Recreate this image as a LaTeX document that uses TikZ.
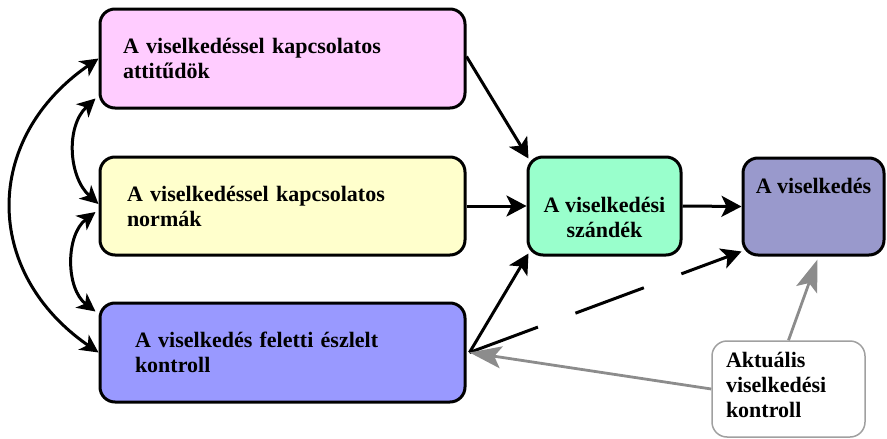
\documentclass[tikz,border=0pt]{standalone}
\usepackage{fontspec}
\setmainfont{Liberation Serif}
\usetikzlibrary{arrows.meta}
\definecolor{pinkfill}{HTML}{FFCCFF}
\definecolor{yellowfill}{HTML}{FFFFCC}
\definecolor{bluefill}{HTML}{9999FF}
\definecolor{greenfill}{HTML}{99FFCC}
\definecolor{violetfill}{HTML}{9999CC}
\definecolor{grayline}{HTML}{8C8C8C}
\definecolor{grayborder}{HTML}{A0A0A0}
\begin{document}
\begin{tikzpicture}[x=1pt,y=-1pt,
  every node/.style={font=\fontsize{22pt}{25pt}\selectfont\bfseries},
  box/.style={draw=black, line width=3pt, rounded corners=15pt, inner ysep=0pt},
  wide/.style={box, minimum height=99pt, align=left},
  blackarrow/.style={line width=3pt, -{Stealth[length=20pt,width=21pt,inset=5pt]}},
  dblarrow/.style={line width=3pt, {Stealth[length=18pt,width=18pt,inset=5pt]}-{Stealth[length=18pt,width=18pt,inset=5pt]}},
  grayarrow/.style={draw=grayline, line width=2.8pt, -{Stealth[length=32pt,width=22pt,inset=7pt]}, grayline}
]
\useasboundingbox (0,0) rectangle (887,439);

\node[wide, fill=pinkfill, inner xsep=23pt, text width=319pt] (att) at (282.5,58.5)
  {A viselkedéssel kapcsolatos\\attitűdök};
\node[wide, fill=yellowfill, inner xsep=27pt, text width=311pt, minimum height=98pt] (norm) at (282.5,206)
  {A viselkedéssel kapcsolatos\\normák};
\node[wide, fill=bluefill, inner xsep=35pt, text width=295pt] (ctrl) at (282.5,352.5)
  {A viselkedés feletti észlelt\\kontroll};
\node[box, fill=greenfill, inner sep=0pt] (int) at (604.5,206)
  {\parbox[c][98pt][t]{153pt}{\centering\rule{0pt}{55pt}A viselkedési\\szándék}};
\node[box, fill=violetfill, minimum width=141pt, minimum height=97pt, text depth=42pt] (beh) at (813.5,206.5)
  {A viselkedés};
\node[draw=grayborder, line width=1.5pt, rounded corners=15pt, fill=white, minimum width=153pt, minimum height=96pt,
  inner xsep=14pt, inner ysep=0pt, text width=125pt, align=left, text depth=58pt] (act) at (788.5,389)
  {Aktuális\\viselkedési\\kontroll};

% left side curved double arrows
\draw[dblarrow] (att.west) .. controls +(-116,80) and +(-116,-80) .. (ctrl.west);
\draw[dblarrow] ([xshift=-3pt,yshift=11pt]att.south west) .. controls +(-30,28) and +(-30,-27) .. ([yshift=2pt]norm.west);
\draw[dblarrow] ([xshift=-3pt,yshift=-6pt]norm.west) .. controls +(-30,23) and +(-30,-23) .. ([xshift=-3pt,yshift=-10pt]ctrl.north west);

% arrows to intention
\draw[blackarrow] ([yshift=2pt]att.east) -- ([xshift=2pt,yshift=-3pt]int.north west);
\draw[blackarrow] (norm.east) -- (int.west);
\draw[blackarrow] ([xshift=3pt]ctrl.east) -- ([xshift=2pt,yshift=3pt]int.south west);
\draw[blackarrow] (int.east) -- (beh.west);

% dashed arrow to behaviour
\draw[blackarrow, dash pattern=on 73pt off 40pt] ([xshift=3pt]ctrl.east) -- ([yshift=5pt]beh.south west);

% gray arrows from actual control
\draw[grayarrow] (act.north) -- ([xshift=4pt,yshift=-3pt]beh.south);
\draw[grayarrow] (act.west) -- ([xshift=3pt]ctrl.east);
\end{tikzpicture}
\end{document}
